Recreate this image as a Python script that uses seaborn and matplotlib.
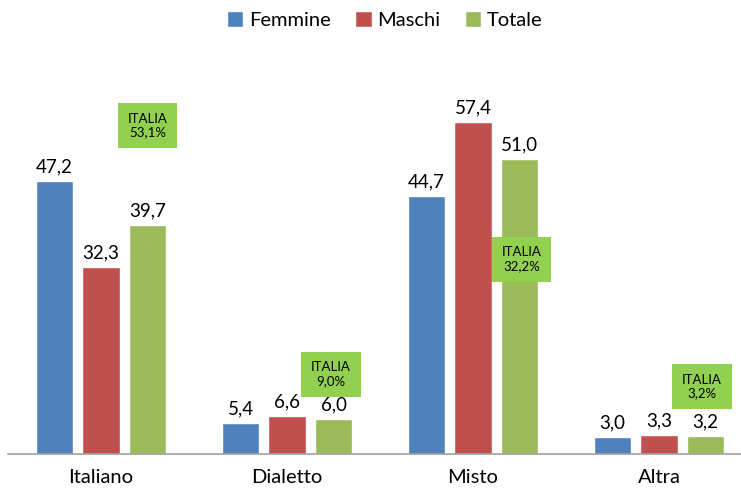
import matplotlib
matplotlib.use("Agg")
import matplotlib.pyplot as plt
import seaborn as sns
import pandas as pd
from matplotlib.patches import Patch

categories = ["Italiano", "Dialetto", "Misto", "Altra"]
series = ["Femmine", "Maschi", "Totale"]
femmine = [47.2, 5.4, 44.7, 3.0]
maschi = [32.3, 6.6, 57.4, 3.3]
totale = [39.7, 6.0, 51.0, 3.2]
italia_labels = ["ITALIA\n53,1%", "ITALIA\n9,0%", "ITALIA\n32,2%", "ITALIA\n3,2%"]

colors = ["#4F81BD", "#C0504D", "#9BBB59"]

df = pd.DataFrame({
    "Categoria": categories * 3,
    "Serie": [s for s in series for _ in categories],
    "Valore": femmine + maschi + totale,
})

sns.set_theme(style="white")
plt.rcParams["font.family"] = ["Lato", "DejaVu Sans"]

fig = plt.figure(figsize=(7.41, 4.90), dpi=100)
ax = fig.add_axes([8 / 741, 1 - 454 / 490, (752 - 8) / 741, (454 - 50) / 490])

sns.barplot(data=df, x="Categoria", y="Valore", hue="Serie", order=categories,
            hue_order=series, palette=colors, ax=ax, width=0.75, gap=0.2,
            legend=False, saturation=1)

for cont in ax.containers:
    ax.bar_label(cont, labels=[f"{v:.1f}".replace(".", ",") for v in cont.datavalues],
                 padding=4, fontsize=13.5, color="#000000")

ax.set_ylim(0, (454 - 50) / 5.78)
ax.set_xlim(-0.5, 3.5)
ax.set_xlabel("")
ax.set_ylabel("")
ax.set_yticks([])
ax.tick_params(axis="x", length=0, pad=11, labelsize=14.5, labelcolor="#000000")
for sp in ["top", "right", "left"]:
    ax.spines[sp].set_visible(False)
ax.spines["bottom"].set_color("#A0A0A0")
ax.spines["bottom"].set_linewidth(1.2)

box_pos = [(0.25, 56.8), (1.236, 13.8), (2.26, 33.7), (3.231, 11.7)]
for (bx, by), lab in zip(box_pos, italia_labels):
    ax.text(bx, by, lab, ha="center", va="center", fontsize=9.5, color="#000000",
            linespacing=1.15,
            bbox=dict(boxstyle="square,pad=0.75", facecolor="#92D050", edgecolor="none"))

handles = [Patch(facecolor=c, label=s) for c, s in zip(colors, series)]
fig.legend(handles=handles, loc="center", bbox_to_anchor=(385 / 741, 1 - 20 / 490),
           ncol=3, frameon=False, fontsize=14.5, handlelength=0.8, handleheight=0.8,
           handletextpad=0.3, columnspacing=1.2, labelcolor="#000000")

fig.savefig("out.png", dpi=100)
